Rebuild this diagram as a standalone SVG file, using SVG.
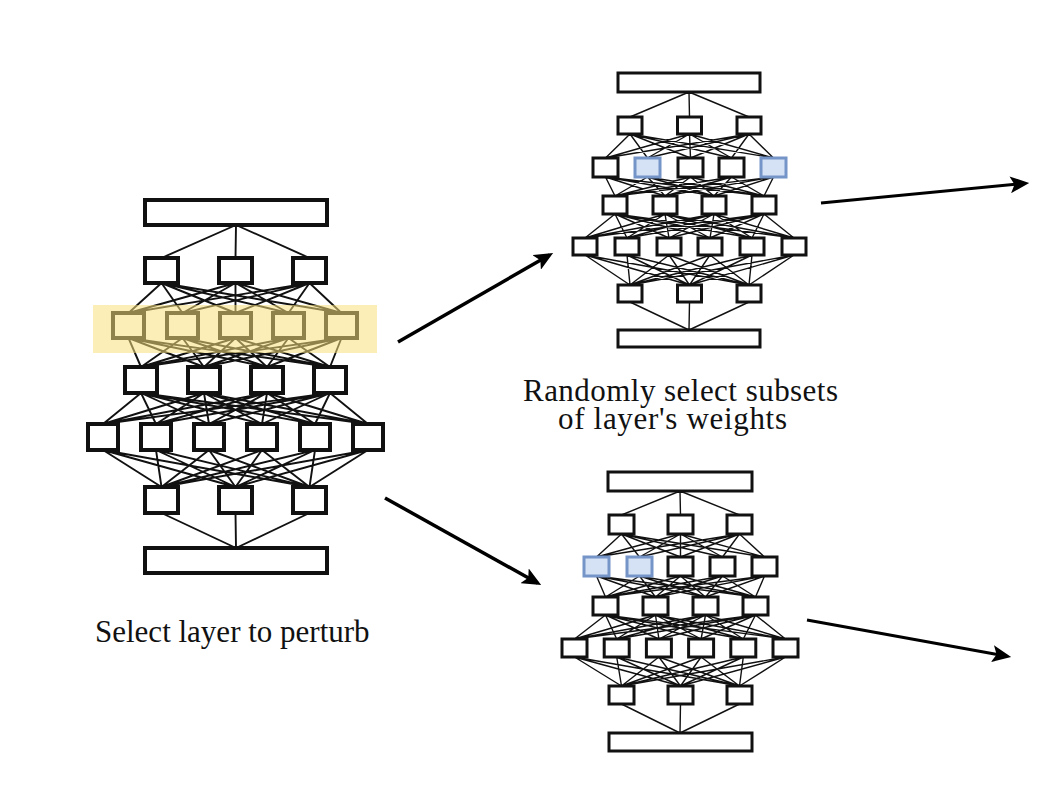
<svg xmlns="http://www.w3.org/2000/svg" width="1042" height="808" viewBox="0 0 1042 808">
<style>
.nl{fill:#fff;stroke:#111;stroke-width:4}
.nr{fill:#fff;stroke:#111;stroke-width:3}
.bl{fill:#d5e2f5;stroke:#7594c8;stroke-width:3}
.el{fill:none;stroke:#111;stroke-width:1.9}
.er{fill:none;stroke:#111;stroke-width:1.4}
.ar{fill:none;stroke:#000;stroke-width:3.5}
.ar2{fill:none;stroke:#000;stroke-width:3}
.t{font-family:"Liberation Serif","Times New Roman",serif;font-size:31px;fill:#111}
</style>
<defs>
<marker id="ah" viewBox="0 0 18 16" refX="14" refY="8" markerWidth="19" markerHeight="17" markerUnits="userSpaceOnUse" orient="auto">
<path d="M0,0 L18,8 L0,16 L4,8 z" fill="#000"/>
</marker>
</defs>
<rect width="1042" height="808" fill="#fff"/>
<g id="connectors">
<path class="el" d="M236 225L161.5 258M236 225L235.5 258M236 225L309.5 258
M161.5 283L128.5 313M161.5 283L182.5 313M161.5 283L235.5 313M161.5 283L288.5 313M161.5 283L341.5 313
M235.5 283L128.5 313M235.5 283L182.5 313M235.5 283L235.5 313M235.5 283L288.5 313M235.5 283L341.5 313
M309.5 283L128.5 313M309.5 283L182.5 313M309.5 283L235.5 313M309.5 283L288.5 313M309.5 283L341.5 313
M128.5 338L141 367M128.5 338L204 367M128.5 338L267 367M128.5 338L330 367
M182.5 338L141 367M182.5 338L204 367M182.5 338L267 367M182.5 338L330 367
M235.5 338L141 367M235.5 338L204 367M235.5 338L267 367M235.5 338L330 367
M288.5 338L141 367M288.5 338L204 367M288.5 338L267 367M288.5 338L330 367
M341.5 338L141 367M341.5 338L204 367M341.5 338L267 367M341.5 338L330 367
M141 393L103 424M141 393L156 424M141 393L209 424M141 393L262 424M141 393L315 424M141 393L368 424
M204 393L103 424M204 393L156 424M204 393L209 424M204 393L262 424M204 393L315 424M204 393L368 424
M267 393L103 424M267 393L156 424M267 393L209 424M267 393L262 424M267 393L315 424M267 393L368 424
M330 393L103 424M330 393L156 424M330 393L209 424M330 393L262 424M330 393L315 424M330 393L368 424
M103 450L161.5 487M103 450L235.5 487M103 450L309.5 487
M156 450L161.5 487M156 450L235.5 487M156 450L309.5 487
M209 450L161.5 487M209 450L235.5 487M209 450L309.5 487
M262 450L161.5 487M262 450L235.5 487M262 450L309.5 487
M315 450L161.5 487M315 450L235.5 487M315 450L309.5 487
M368 450L161.5 487M368 450L235.5 487M368 450L309.5 487
M161.5 513L236 548M235.5 513L236 548M309.5 513L236 548"/>
<path class="er" d="M689 92L630 117M689 92L689.5 117M689 92L749 117
M630 134L605.5 158M630 134L647.5 158M630 134L690.5 158M630 134L731.5 158M630 134L773.5 158
M689.5 134L605.5 158M689.5 134L647.5 158M689.5 134L690.5 158M689.5 134L731.5 158M689.5 134L773.5 158
M749 134L605.5 158M749 134L647.5 158M749 134L690.5 158M749 134L731.5 158M749 134L773.5 158
M605.5 177L615 196M605.5 177L665 196M605.5 177L714 196M605.5 177L764 196
M647.5 177L615 196M647.5 177L665 196M647.5 177L714 196M647.5 177L764 196
M690.5 177L615 196M690.5 177L665 196M690.5 177L714 196M690.5 177L764 196
M731.5 177L615 196M731.5 177L665 196M731.5 177L714 196M731.5 177L764 196
M773.5 177L615 196M773.5 177L665 196M773.5 177L714 196M773.5 177L764 196
M615 214L585 238M615 214L627 238M615 214L669 238M615 214L710 238M615 214L752 238M615 214L794 238
M665 214L585 238M665 214L627 238M665 214L669 238M665 214L710 238M665 214L752 238M665 214L794 238
M714 214L585 238M714 214L627 238M714 214L669 238M714 214L710 238M714 214L752 238M714 214L794 238
M764 214L585 238M764 214L627 238M764 214L669 238M764 214L710 238M764 214L752 238M764 214L794 238
M585 255L630 285M585 255L689.5 285M585 255L749 285
M627 255L630 285M627 255L689.5 285M627 255L749 285
M669 255L630 285M669 255L689.5 285M669 255L749 285
M710 255L630 285M710 255L689.5 285M710 255L749 285
M752 255L630 285M752 255L689.5 285M752 255L749 285
M794 255L630 285M794 255L689.5 285M794 255L749 285
M630 302L689 330M689.5 302L689 330M749 302L689 330"/>
<path class="er" d="M680 491L621.5 515M680 491L680.5 515M680 491L739.5 515
M621.5 534L596.5 557M621.5 534L639.5 557M621.5 534L680.5 557M621.5 534L722.5 557M621.5 534L764.5 557
M680.5 534L596.5 557M680.5 534L639.5 557M680.5 534L680.5 557M680.5 534L722.5 557M680.5 534L764.5 557
M739.5 534L596.5 557M739.5 534L639.5 557M739.5 534L680.5 557M739.5 534L722.5 557M739.5 534L764.5 557
M596.5 576L605.5 597M596.5 576L655.5 597M596.5 576L705.5 597M596.5 576L755.5 597
M639.5 576L605.5 597M639.5 576L655.5 597M639.5 576L705.5 597M639.5 576L755.5 597
M680.5 576L605.5 597M680.5 576L655.5 597M680.5 576L705.5 597M680.5 576L755.5 597
M722.5 576L605.5 597M722.5 576L655.5 597M722.5 576L705.5 597M722.5 576L755.5 597
M764.5 576L605.5 597M764.5 576L655.5 597M764.5 576L705.5 597M764.5 576L755.5 597
M605.5 615L574.5 639M605.5 615L616.7 639M605.5 615L658.9 639M605.5 615L701.1 639M605.5 615L743.3 639M605.5 615L785.5 639
M655.5 615L574.5 639M655.5 615L616.7 639M655.5 615L658.9 639M655.5 615L701.1 639M655.5 615L743.3 639M655.5 615L785.5 639
M705.5 615L574.5 639M705.5 615L616.7 639M705.5 615L658.9 639M705.5 615L701.1 639M705.5 615L743.3 639M705.5 615L785.5 639
M755.5 615L574.5 639M755.5 615L616.7 639M755.5 615L658.9 639M755.5 615L701.1 639M755.5 615L743.3 639M755.5 615L785.5 639
M574.5 657L621.5 686M574.5 657L680.5 686M574.5 657L739.5 686
M616.7 657L621.5 686M616.7 657L680.5 686M616.7 657L739.5 686
M658.9 657L621.5 686M658.9 657L680.5 686M658.9 657L739.5 686
M701.1 657L621.5 686M701.1 657L680.5 686M701.1 657L739.5 686
M743.3 657L621.5 686M743.3 657L680.5 686M743.3 657L739.5 686
M785.5 657L621.5 686M785.5 657L680.5 686M785.5 657L739.5 686
M621.5 704L680 733M680.5 704L680 733M739.5 704L680 733"/>
</g>
<g id="left-network">
<g id="L-bar-top"><rect class="nl" x="145" y="200" width="182" height="25"/></g>
<g id="L-1-1"><rect class="nl" x="145" y="258" width="33" height="25"/></g>
<g id="L-1-2"><rect class="nl" x="219" y="258" width="33" height="25"/></g>
<g id="L-1-3"><rect class="nl" x="293" y="258" width="33" height="25"/></g>
<g id="L-2-1"><rect class="nl" x="113" y="313" width="31" height="25"/></g>
<g id="L-2-2"><rect class="nl" x="167" y="313" width="31" height="25"/></g>
<g id="L-2-3"><rect class="nl" x="220" y="313" width="31" height="25"/></g>
<g id="L-2-4"><rect class="nl" x="273" y="313" width="31" height="25"/></g>
<g id="L-2-5"><rect class="nl" x="326" y="313" width="31" height="25"/></g>
<g id="L-3-1"><rect class="nl" x="125" y="367" width="32" height="26"/></g>
<g id="L-3-2"><rect class="nl" x="188" y="367" width="32" height="26"/></g>
<g id="L-3-3"><rect class="nl" x="251" y="367" width="32" height="26"/></g>
<g id="L-3-4"><rect class="nl" x="314" y="367" width="32" height="26"/></g>
<g id="L-4-1"><rect class="nl" x="88" y="424" width="30" height="26"/></g>
<g id="L-4-2"><rect class="nl" x="141" y="424" width="30" height="26"/></g>
<g id="L-4-3"><rect class="nl" x="194" y="424" width="30" height="26"/></g>
<g id="L-4-4"><rect class="nl" x="247" y="424" width="30" height="26"/></g>
<g id="L-4-5"><rect class="nl" x="300" y="424" width="30" height="26"/></g>
<g id="L-4-6"><rect class="nl" x="353" y="424" width="30" height="26"/></g>
<g id="L-5-1"><rect class="nl" x="145" y="487" width="33" height="26"/></g>
<g id="L-5-2"><rect class="nl" x="219" y="487" width="33" height="26"/></g>
<g id="L-5-3"><rect class="nl" x="293" y="487" width="33" height="26"/></g>
<g id="L-bar-bottom"><rect class="nl" x="145" y="548" width="182" height="25"/></g>
<g id="L-highlight"><rect x="93" y="305" width="284" height="48" fill="#f8e07c" opacity="0.55"/></g>
</g>
<g id="top-network">
<g id="T-bar-top"><rect class="nr" x="618" y="73" width="142" height="19"/></g>
<g id="T-1-1"><rect class="nr" x="618" y="117" width="24" height="17"/></g>
<g id="T-1-2"><rect class="nr" x="677.5" y="117" width="24" height="17"/></g>
<g id="T-1-3"><rect class="nr" x="737" y="117" width="24" height="17"/></g>
<g id="T-2-1"><rect class="nr" x="593" y="158" width="25" height="19"/></g>
<g id="T-2-2"><rect class="bl" x="635" y="158" width="25" height="19"/></g>
<g id="T-2-3"><rect class="nr" x="678" y="158" width="25" height="19"/></g>
<g id="T-2-4"><rect class="nr" x="719" y="158" width="25" height="19"/></g>
<g id="T-2-5"><rect class="bl" x="761" y="158" width="25" height="19"/></g>
<g id="T-3-1"><rect class="nr" x="603" y="196" width="24" height="18"/></g>
<g id="T-3-2"><rect class="nr" x="653" y="196" width="24" height="18"/></g>
<g id="T-3-3"><rect class="nr" x="702" y="196" width="24" height="18"/></g>
<g id="T-3-4"><rect class="nr" x="752" y="196" width="24" height="18"/></g>
<g id="T-4-1"><rect class="nr" x="573" y="238" width="24" height="17"/></g>
<g id="T-4-2"><rect class="nr" x="615" y="238" width="24" height="17"/></g>
<g id="T-4-3"><rect class="nr" x="657" y="238" width="24" height="17"/></g>
<g id="T-4-4"><rect class="nr" x="698" y="238" width="24" height="17"/></g>
<g id="T-4-5"><rect class="nr" x="740" y="238" width="24" height="17"/></g>
<g id="T-4-6"><rect class="nr" x="782" y="238" width="24" height="17"/></g>
<g id="T-5-1"><rect class="nr" x="618" y="285" width="24" height="17"/></g>
<g id="T-5-2"><rect class="nr" x="677.5" y="285" width="24" height="17"/></g>
<g id="T-5-3"><rect class="nr" x="737" y="285" width="24" height="17"/></g>
<g id="T-bar-bottom"><rect class="nr" x="618" y="330" width="142" height="17"/></g>
</g>
<g id="bottom-network">
<g id="B-bar-top"><rect class="nr" x="608" y="472" width="144" height="19"/></g>
<g id="B-1-1"><rect class="nr" x="609" y="515" width="25" height="19"/></g>
<g id="B-1-2"><rect class="nr" x="668" y="515" width="25" height="19"/></g>
<g id="B-1-3"><rect class="nr" x="727" y="515" width="25" height="19"/></g>
<g id="B-2-1"><rect class="bl" x="584" y="557" width="25" height="19"/></g>
<g id="B-2-2"><rect class="bl" x="627" y="557" width="25" height="19"/></g>
<g id="B-2-3"><rect class="nr" x="668" y="557" width="25" height="19"/></g>
<g id="B-2-4"><rect class="nr" x="710" y="557" width="25" height="19"/></g>
<g id="B-2-5"><rect class="nr" x="752" y="557" width="25" height="19"/></g>
<g id="B-3-1"><rect class="nr" x="593" y="597" width="25" height="18"/></g>
<g id="B-3-2"><rect class="nr" x="643" y="597" width="25" height="18"/></g>
<g id="B-3-3"><rect class="nr" x="693" y="597" width="25" height="18"/></g>
<g id="B-3-4"><rect class="nr" x="743" y="597" width="25" height="18"/></g>
<g id="B-4-1"><rect class="nr" x="562" y="639" width="25" height="18"/></g>
<g id="B-4-2"><rect class="nr" x="604.2" y="639" width="25" height="18"/></g>
<g id="B-4-3"><rect class="nr" x="646.4" y="639" width="25" height="18"/></g>
<g id="B-4-4"><rect class="nr" x="688.6" y="639" width="25" height="18"/></g>
<g id="B-4-5"><rect class="nr" x="730.8" y="639" width="25" height="18"/></g>
<g id="B-4-6"><rect class="nr" x="773" y="639" width="25" height="18"/></g>
<g id="B-5-1"><rect class="nr" x="609" y="686" width="25" height="18"/></g>
<g id="B-5-2"><rect class="nr" x="668" y="686" width="25" height="18"/></g>
<g id="B-5-3"><rect class="nr" x="727" y="686" width="25" height="18"/></g>
<g id="B-bar-bottom"><rect class="nr" x="609" y="733" width="143" height="18"/></g>
</g>
<g id="arrows">
<line class="ar" x1="398" y1="342" x2="549.5" y2="255" marker-end="url(#ah)"/>
<line class="ar" x1="385" y1="498" x2="537.5" y2="583" marker-end="url(#ah)"/>
<line class="ar2" x1="821" y1="203" x2="1025" y2="183.4" marker-end="url(#ah)"/>
<line class="ar2" x1="807" y1="620" x2="1007" y2="656.3" marker-end="url(#ah)"/>
</g>
<g id="labels">
<text class="t" x="523" y="401" textLength="315">Randomly select subsets</text>
<text class="t" x="558" y="429" textLength="229">of layer's weights</text>
<text class="t" x="95" y="642">Select layer to perturb</text>
</g>
</svg>
